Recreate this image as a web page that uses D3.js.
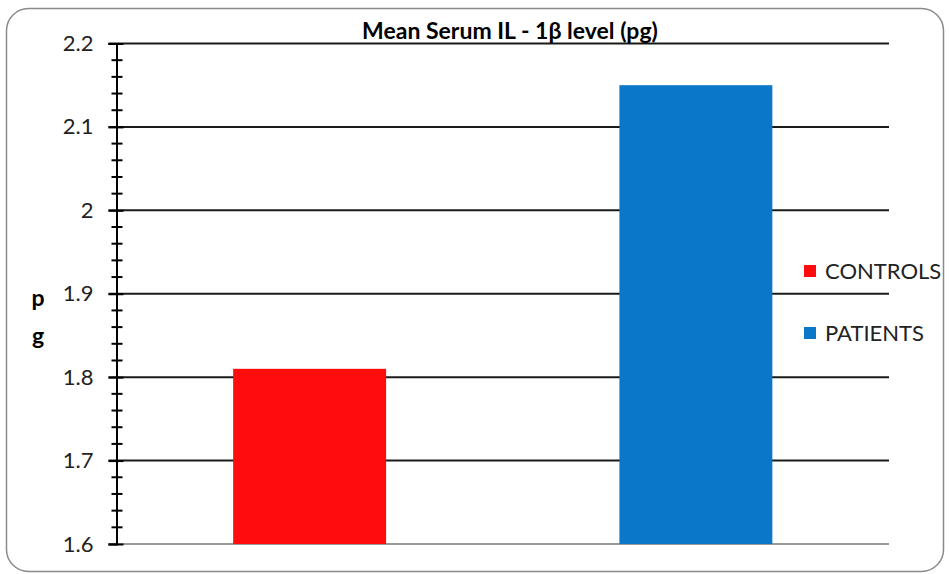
<!DOCTYPE html>
<html><head><meta charset="utf-8">
<script src="https://cdn.jsdelivr.net/npm/d3@7"></script>
<style>body{margin:0;background:#fff;} svg{display:block;}</style>
</head><body>
<svg id="c" width="949" height="574"></svg>
<script>
const categories = ["CONTROLS", "PATIENTS"];
const values = [1.81, 2.15];
const colors = ["#FF0D0D", "#0A77C8"];
const yTicks = [1.6, 1.7, 1.8, 1.9, 2.0, 2.1, 2.2];
const yTickLabels = ["1.6", "1.7", "1.8", "1.9", "2", "2.1", "2.2"];
const title = "Mean Serum IL - 1β level (pg)";

(function () {
const svg = d3.select("#c");
const font = "Lato, 'Open Sans', sans-serif";
svg.append("rect").attr("x", 6.5).attr("y", 8.5).attr("width", 937).attr("height", 563)
  .attr("rx", 22).attr("fill", "#fff").attr("stroke", "#8a8a8a").attr("stroke-width", 1.5);

const pL = 116.5, pR = 889, pT = 43.5, pB = 544;
const y = d3.scaleLinear().domain([1.6, 2.2]).range([pB, pT]);
const x = d3.scaleBand().domain(categories).range([pL, pR]).paddingInner(0.604).paddingOuter(0.302);

// gridlines
svg.append("g").selectAll("line").data(yTicks.slice(1)).join("line")
  .attr("x1", pL - 8).attr("x2", pR).attr("y1", d => y(d)).attr("y2", d => y(d))
  .attr("stroke", "#1a1a1a").attr("stroke-width", 2);
svg.append("line").attr("x1", pL - 8).attr("x2", pR).attr("y1", y(1.6)).attr("y2", y(1.6))
  .attr("stroke", "#999").attr("stroke-width", 2);

// bars
svg.append("g").selectAll("rect").data(categories).join("rect")
  .attr("x", d => x(d)).attr("width", x.bandwidth())
  .attr("y", (d, i) => y(values[i])).attr("height", (d, i) => pB - y(values[i]))
  .attr("fill", (d, i) => colors[i]);

// y axis
const minor = d3.range(0, 31).map(i => 1.6 + i * 0.02).filter(v => Math.abs(Math.round(v * 10) - v * 10) > 1e-6);
const yAxis = d3.axisLeft(y).tickValues(yTicks).tickFormat((d, i) => yTickLabels[i]).tickSize(8).tickPadding(15);
const ga = svg.append("g").attr("transform", `translate(${pL},0)`).call(yAxis);
ga.select(".domain").attr("stroke", "#000").attr("stroke-width", 2);
ga.selectAll(".tick line").attr("stroke", "#000").attr("stroke-width", 2).attr("x2", 7).attr("x1", -8);
ga.selectAll(".tick text").attr("font-family", font).attr("font-size", 22).attr("fill", "#222");
svg.append("g").selectAll("line").data(minor).join("line")
  .attr("x1", pL - 5).attr("x2", pL + 6).attr("y1", d => y(d)).attr("y2", d => y(d))
  .attr("stroke", "#000").attr("stroke-width", 2);

// title
svg.append("text").attr("x", 510).attr("y", 39).attr("text-anchor", "middle")
  .attr("font-family", font).attr("font-weight", "bold").attr("font-size", 23).attr("fill", "#000").text(title);

// y label
svg.append("text").attr("x", 38).attr("y", 306).attr("text-anchor", "middle")
  .attr("font-family", font).attr("font-weight", "bold").attr("font-size", 23).text("p");
svg.append("text").attr("x", 38).attr("y", 344).attr("text-anchor", "middle")
  .attr("font-family", font).attr("font-weight", "bold").attr("font-size", 23).text("g");

// legend
const lg = svg.append("g").selectAll("g").data(categories).join("g")
  .attr("transform", (d, i) => `translate(804,${265 + i * 62})`);
lg.append("rect").attr("width", 12).attr("height", 12).attr("fill", (d, i) => colors[i]);
lg.append("text").attr("x", 21).attr("y", 13.5).attr("font-family", font).attr("font-size", 22)
  .attr("fill", "#222").text(d => d);
})();
</script>
</body></html>
